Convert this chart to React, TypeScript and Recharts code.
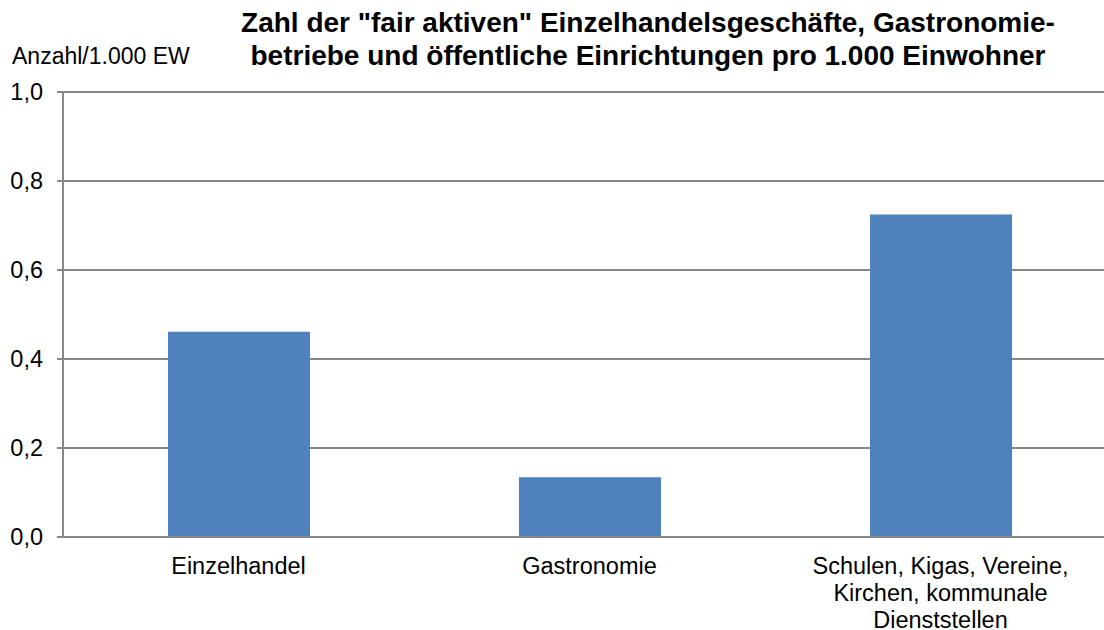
import React from 'react';
import { BarChart, Bar, XAxis, YAxis, CartesianGrid } from 'recharts';

const categories = ['Einzelhandel', 'Gastronomie', 'Schulen, Kigas, Vereine, Kirchen, kommunale Dienststellen'];
const categoryLabelLines = [
  ['Einzelhandel'],
  ['Gastronomie'],
  ['Schulen, Kigas, Vereine,', 'Kirchen, kommunale', 'Dienststellen'],
];
const values = [0.461, 0.134, 0.725];
const yTicks = [0, 0.2, 0.4, 0.6, 0.8, 1.0];
const edgeTicks = [0, 1, 2, 3];
const titleLines = [
  'Zahl der "fair aktiven" Einzelhandelsgeschäfte, Gastronomie-',
  'betriebe und öffentliche Einrichtungen pro 1.000 Einwohner',
];
const yUnitLabel = 'Anzahl/1.000 EW';

const data = categories.map((name, i) => ({ name, value: values[i] }));

const FONT = '"Liberation Sans", Arial, sans-serif';
const GRID = '#878787';

const CatTick = (props: any) => {
  const { x, y, payload } = props;
  const lines = categoryLabelLines[payload.index] || [payload.value];
  return (
    <text x={x} y={y} textAnchor="middle" fontSize={23.5} fill="#000" fontFamily={FONT}>
      {lines.map((l: string, i: number) => (
        <tspan key={i} x={x} dy={i === 0 ? '0.71em' : '1.15em'}>{l}</tspan>
      ))}
    </text>
  );
};

export default function App() {
  return (
    <div style={{ position: 'absolute', left: 0, top: 0, width: 1104, height: 630, overflow: 'hidden', background: '#fff' }}>
      <div
        style={{
          position: 'absolute',
          left: 148,
          width: 1000,
          top: 6,
          textAlign: 'center',
          fontFamily: FONT,
          fontWeight: 'bold',
          fontSize: 28,
          lineHeight: '33px',
          color: '#000',
          whiteSpace: 'nowrap',
        }}
      >
        {titleLines.map((t, i) => (
          <div key={i}>{t}</div>
        ))}
      </div>
      <div
        style={{
          position: 'absolute',
          left: 12,
          top: 45,
          fontFamily: FONT,
          fontSize: 23,
          lineHeight: '23px',
          color: '#000',
          whiteSpace: 'nowrap',
        }}
      >
        {yUnitLabel}
      </div>
      <div style={{ position: 'absolute', left: 0, top: 0 }}>
        <BarChart
          width={1130}
          height={630}
          data={data}
          margin={{ top: 92, right: 14, bottom: 0, left: 0 }}
        >
          <CartesianGrid vertical={false} stroke={GRID} strokeWidth={2} />
          <XAxis
            xAxisId="edge"
            type="number"
            domain={[0, 3]}
            ticks={edgeTicks}
            tick={false}
            axisLine={false}
            tickLine={{ stroke: GRID, strokeWidth: 2 }}
            tickSize={6}
            height={0}
            allowDataOverflow
          />
          <XAxis
            xAxisId="cat"
            dataKey="name"
            height={93}
            tickLine={false}
            axisLine={{ stroke: GRID, strokeWidth: 2 }}
            tickSize={6}
            tickMargin={14}
            tick={<CatTick />}
            interval={0}
          />
          <YAxis
            width={63}
            domain={[0, 1]}
            ticks={yTicks}
            interval={0}
            axisLine={{ stroke: GRID, strokeWidth: 2 }}
            tickLine={{ stroke: GRID, strokeWidth: 2 }}
            tickSize={6}
            tickMargin={14}
            tick={{ fontSize: 23.5, fill: '#000', fontFamily: FONT }}
            tickFormatter={(v: number) => v.toFixed(1).replace('.', ',')}
          />
          <Bar xAxisId="cat" dataKey="value" fill="#4F81BD" barSize={142} isAnimationActive={false} />
        </BarChart>
      </div>
    </div>
  );
}
